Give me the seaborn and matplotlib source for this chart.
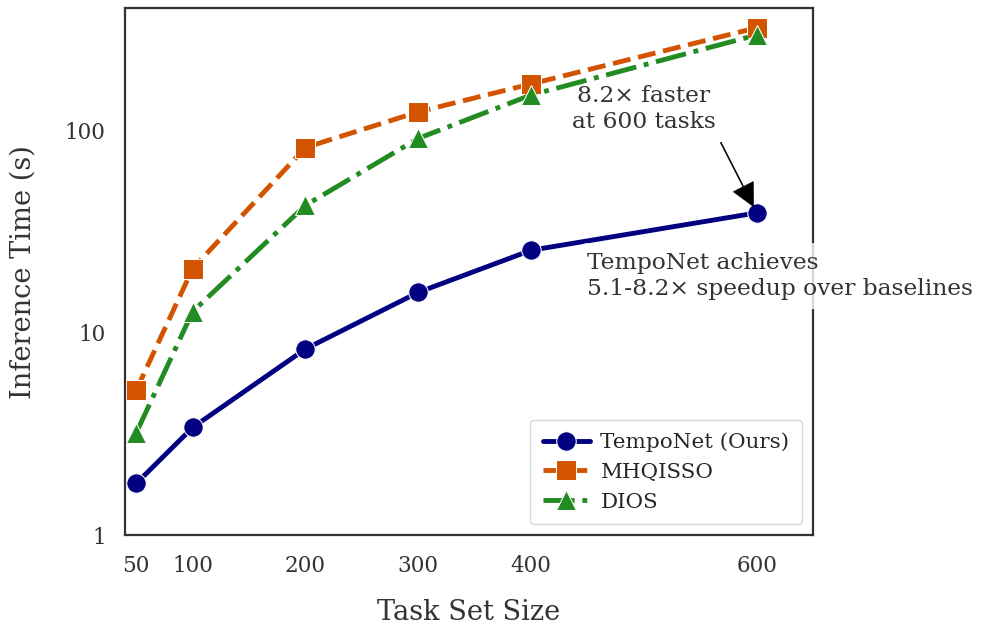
import matplotlib
matplotlib.use("Agg")
import matplotlib.pyplot as plt
import seaborn as sns
import pandas as pd

task_sizes = [50, 100, 200, 300, 400, 600]
temponet = [1.8, 3.4, 8.3, 15.8, 25.5, 39.0]
mhqisso = [5.2, 20.7, 82.0, 123.0, 169.0, 320.0]
dios = [3.2, 12.7, 42.5, 91.0, 149.0, 295.0]
series_names = ["TempoNet (Ours)", "MHQISSO", "DIOS"]
y_ticks = [1, 10, 100]
y_tick_labels = ["1", "10", "100"]

sns.set_theme(style="white")
plt.rcParams["font.family"] = ["DejaVu Serif"]
plt.rcParams["axes.edgecolor"] = "#333333"
plt.rcParams["axes.linewidth"] = 1.6

fig = plt.figure(figsize=(9.82, 6.28), dpi=100)
ax = fig.add_axes([0.1273, 0.148, 0.828 - 0.1273, 0.987 - 0.148])

styles = [
    dict(color="#000080", marker="o", linestyle="-"),
    dict(color="#D35400", marker="s", linestyle="--"),
    dict(color="#228B22", marker="^", linestyle="-."),
]
for name, vals, st in zip(series_names, [temponet, mhqisso, dios], styles):
    df = pd.DataFrame({"size": task_sizes, "time": vals})
    sns.lineplot(data=df, x="size", y="time", ax=ax, label=name,
                 color=st["color"], marker=st["marker"], linestyle=st["linestyle"],
                 linewidth=3.5, markersize=14)

ax.set_yscale("log")
ax.set_ylim(1, 400)
ax.set_xlim(40, 650)
ax.set_xticks(task_sizes)
ax.set_xticklabels([str(v) for v in task_sizes])
ax.set_yticks(y_ticks)
ax.set_yticklabels(y_tick_labels)
ax.minorticks_off()
ax.tick_params(axis="both", length=0, labelsize=15.5, colors="#333333")
ax.tick_params(axis="y", pad=14)
ax.tick_params(axis="x", pad=14)

ax.set_xlabel("Task Set Size", fontsize=19.6, color="#333333", labelpad=16)
ax.set_ylabel("Inference Time (s)", fontsize=19.6, color="#333333", labelpad=20)

for s in ax.spines.values():
    s.set_visible(True)
    s.set_color("#333333")

ax.annotate("8.2× faster\nat 600 tasks", xy=(600, 39.0), xytext=(500, 127),
            ha="center", va="center", fontsize=16.8, color="#333333",
            arrowprops=dict(facecolor="black", edgecolor="black", linewidth=0.5,
                            shrink=0.08, width=0.6, headwidth=16, headlength=16))

ax.text(450, 19, "TempoNet achieves\n5.1-8.2× speedup over baselines",
        ha="left", va="center", fontsize=16.8, color="#333333",
        bbox=dict(boxstyle="round,pad=0.4", facecolor="white", alpha=0.8, edgecolor="none"))

leg = ax.legend(loc="lower right", fontsize=15.4, frameon=True, borderpad=0.6,
                handlelength=2.2, handletextpad=0.5)
leg.get_frame().set_edgecolor("#cccccc")

fig.savefig("out.png", dpi=100)
